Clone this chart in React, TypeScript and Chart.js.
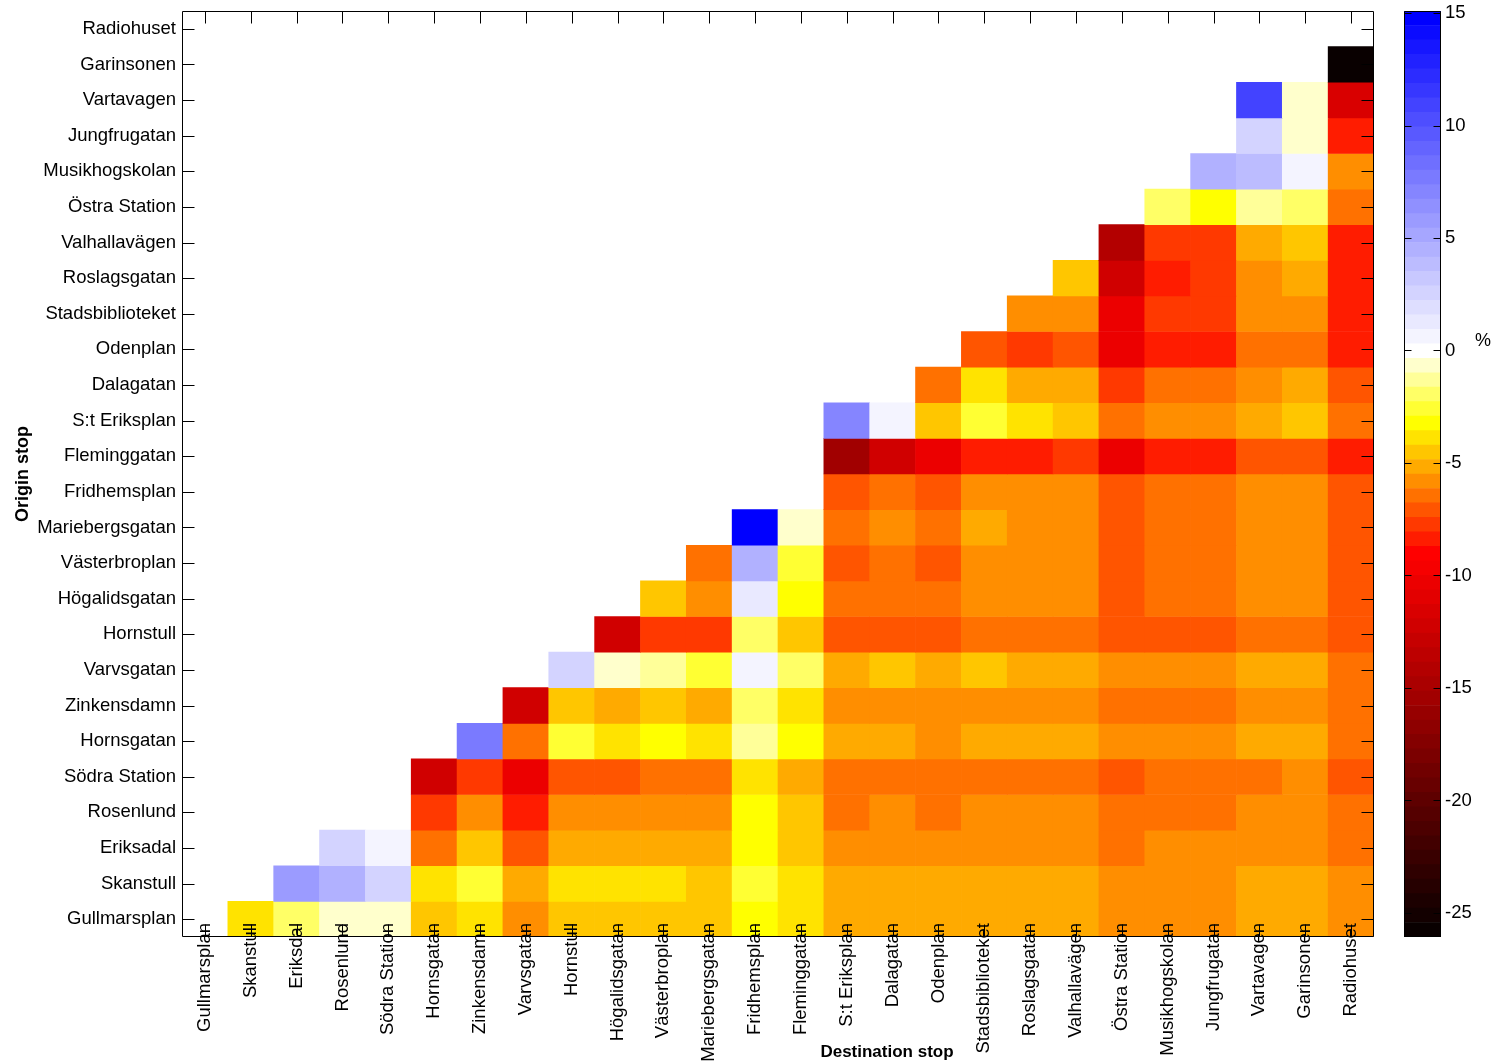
import React, { useEffect, useRef } from "react";
import { Chart, registerables } from "chart.js";

Chart.register(...registerables);

// Origin stops, listed top-to-bottom as on the vertical axis
const origins = [
  "Radiohuset", "Garinsonen", "Vartavagen", "Jungfrugatan", "Musikhogskolan",
  "Östra Station", "Valhallavägen", "Roslagsgatan", "Stadsbiblioteket", "Odenplan",
  "Dalagatan", "S:t Eriksplan", "Fleminggatan", "Fridhemsplan", "Mariebergsgatan",
  "Västerbroplan", "Högalidsgatan", "Hornstull", "Varvsgatan", "Zinkensdamn",
  "Hornsgatan", "Södra Station", "Rosenlund", "Eriksadal", "Skanstull", "Gullmarsplan",
];

// Destination stops, left-to-right on the horizontal axis
const destinations = [
  "Gullmarsplan", "Skanstull", "Eriksdal", "Rosenlund", "Södra Station",
  "Hornsgatan", "Zinkensdamn", "Varvsgatan", "Hornstull", "Högalidsgatan",
  "Västerbroplan", "Mariebergsgatan", "Fridhemsplan", "Fleminggatan", "S:t Eriksplan",
  "Dalagatan", "Odenplan", "Stadsbiblioteket", "Roslagsgatan", "Valhallavägen",
  "Östra Station", "Musikhogskolan", "Jungfrugatan", "Vartavagen", "Garinsonen", "Radiohuset",
];

const _ = null;
// Change in % per origin row (same order as `origins`), columns in `destinations` order
const changePct: (number | null)[][] = [
  [_, _, _, _, _, _, _, _, _, _, _, _, _, _, _, _, _, _, _, _, _, _, _, _, _, _],
  [_, _, _, _, _, _, _, _, _, _, _, _, _, _, _, _, _, _, _, _, _, _, _, _, _, -25.5],
  [_, _, _, _, _, _, _, _, _, _, _, _, _, _, _, _, _, _, _, _, _, _, _, 11.0, -0.7, -11.6],
  [_, _, _, _, _, _, _, _, _, _, _, _, _, _, _, _, _, _, _, _, _, _, _, 2.5, -0.7, -8.4],
  [_, _, _, _, _, _, _, _, _, _, _, _, _, _, _, _, _, _, _, _, _, _, 4.5, 3.8, 0.6, -5.8],
  [_, _, _, _, _, _, _, _, _, _, _, _, _, _, _, _, _, _, _, _, _, -2.0, -3.2, -1.3, -2.0, -6.5],
  [_, _, _, _, _, _, _, _, _, _, _, _, _, _, _, _, _, _, _, _, -14.2, -7.7, -7.7, -5.2, -4.5, -8.4],
  [_, _, _, _, _, _, _, _, _, _, _, _, _, _, _, _, _, _, _, -4.5, -12.2, -8.4, -7.7, -5.8, -5.2, -8.4],
  [_, _, _, _, _, _, _, _, _, _, _, _, _, _, _, _, _, _, -5.8, -5.8, -10.3, -7.7, -7.7, -5.8, -5.8, -8.4],
  [_, _, _, _, _, _, _, _, _, _, _, _, _, _, _, _, _, -7.1, -7.7, -7.1, -10.3, -8.4, -8.4, -6.5, -6.5, -8.4],
  [_, _, _, _, _, _, _, _, _, _, _, _, _, _, _, _, -6.5, -3.9, -5.2, -5.2, -7.7, -6.5, -6.5, -5.8, -5.2, -7.1],
  [_, _, _, _, _, _, _, _, _, _, _, _, _, _, 7.0, 0.6, -4.5, -2.6, -3.9, -4.5, -6.5, -5.8, -5.8, -5.2, -4.5, -6.5],
  [_, _, _, _, _, _, _, _, _, _, _, _, _, _, -15.5, -12.2, -10.3, -8.4, -8.4, -7.7, -10.3, -8.4, -8.4, -7.1, -7.1, -8.4],
  [_, _, _, _, _, _, _, _, _, _, _, _, _, _, -7.1, -6.5, -7.1, -5.8, -5.8, -5.8, -7.1, -6.5, -6.5, -5.8, -5.8, -7.1],
  [_, _, _, _, _, _, _, _, _, _, _, _, 14.9, -0.7, -6.5, -5.8, -6.5, -5.2, -5.8, -5.8, -7.1, -6.5, -6.5, -5.8, -5.8, -7.1],
  [_, _, _, _, _, _, _, _, _, _, _, -6.5, 4.5, -2.6, -7.1, -6.5, -7.1, -5.8, -5.8, -5.8, -7.1, -6.5, -6.5, -5.8, -5.8, -7.1],
  [_, _, _, _, _, _, _, _, _, _, -4.5, -5.8, 1.3, -3.2, -6.5, -6.5, -6.5, -5.8, -5.8, -5.8, -7.1, -6.5, -6.5, -5.8, -5.8, -7.1],
  [_, _, _, _, _, _, _, _, _, -12.2, -7.7, -7.7, -2.0, -4.5, -7.1, -7.1, -7.1, -6.5, -6.5, -6.5, -7.1, -7.1, -7.1, -6.5, -6.5, -7.1],
  [_, _, _, _, _, _, _, _, 2.5, -0.7, -1.3, -2.6, 0.6, -2.0, -5.2, -4.5, -5.2, -4.5, -5.2, -5.2, -5.8, -5.8, -5.8, -5.2, -5.2, -6.5],
  [_, _, _, _, _, _, _, -12.2, -4.5, -5.2, -4.5, -5.2, -2.0, -3.9, -5.8, -5.8, -5.8, -5.8, -5.8, -5.8, -6.5, -6.5, -6.5, -5.8, -5.8, -6.5],
  [_, _, _, _, _, _, 7.7, -6.5, -2.6, -3.9, -3.2, -3.9, -1.3, -3.2, -5.2, -5.2, -5.8, -5.2, -5.2, -5.2, -5.8, -5.8, -5.8, -5.2, -5.2, -6.5],
  [_, _, _, _, _, -12.2, -7.7, -10.3, -7.1, -7.1, -6.5, -6.5, -3.9, -5.2, -6.5, -6.5, -6.5, -6.5, -6.5, -6.5, -7.1, -6.5, -6.5, -6.5, -5.8, -7.1],
  [_, _, _, _, _, -7.7, -5.8, -8.4, -5.8, -5.8, -5.8, -5.8, -3.2, -4.5, -6.5, -5.8, -6.5, -5.8, -5.8, -5.8, -6.5, -6.5, -6.5, -5.8, -5.8, -6.5],
  [_, _, _, 2.5, 0.6, -6.5, -4.5, -7.1, -5.2, -5.2, -5.2, -5.2, -3.2, -4.5, -5.8, -5.8, -5.8, -5.8, -5.8, -5.8, -6.5, -5.8, -5.8, -5.8, -5.8, -6.5],
  [_, _, 5.8, 4.5, 2.5, -3.9, -2.6, -5.2, -3.9, -3.9, -3.9, -4.5, -2.6, -3.9, -5.2, -5.2, -5.2, -5.2, -5.2, -5.2, -5.8, -5.8, -5.8, -5.2, -5.2, -5.8],
  [_, -3.9, -2.0, -0.7, -0.7, -4.5, -3.9, -5.8, -4.5, -4.5, -4.5, -4.5, -3.2, -3.9, -5.2, -5.2, -5.2, -5.2, -5.2, -5.2, -5.8, -5.8, -5.8, -5.2, -5.2, -5.8],
];

const colorbarTicks = [-25, -20, -15, -10, -5, 0, 5, 10, 15];
const colorLimits = [-26.07, 15.09];

// ---------- colormap (64 discrete levels) ----------
const N_LEVELS = 64;
function levelColor(k: number): string {
  let r = 0, g = 0, b = 0;
  if (k <= 25) {
    r = Math.round((255 * (k + 1)) / 27);
  } else if (k <= 35) {
    r = 255; g = Math.round(((k - 26) * 255) / 9);
  } else if (k <= 40) {
    r = 255; g = 255; b = Math.round(((k - 35) * 255) / 5);
  } else {
    const j = k - 40;
    r = g = Math.round(255 * (1 - j / 23)); b = 255;
  }
  return `rgb(${r},${g},${b})`;
}
const colormap = Array.from({ length: N_LEVELS }, (_v, k) => levelColor(k));
const levelWidth = (colorLimits[1] - colorLimits[0]) / N_LEVELS;
function colorFor(v: number): string {
  let k = Math.floor((v - colorLimits[0]) / levelWidth);
  k = Math.max(0, Math.min(N_LEVELS - 1, k));
  return colormap[k];
}

const FONT = '"Liberation Sans", Arial, Helvetica, sans-serif';
const LABEL_SIZE = 18.5;
const W = 1495;
const H = 1064;
const MAIN_W = 1395;
const PLOT = { left: 182, right: 1374, top: 11, bottom: 937 };
const CB = { left: 1404, right: 1441 };

function zeroPad(s: any) {
  s.paddingTop = 0;
  s.paddingBottom = 0;
  s.paddingLeft = 0;
  s.paddingRight = 0;
}

export default function App() {
  const mainRef = useRef<HTMLCanvasElement | null>(null);
  const cbRef = useRef<HTMLCanvasElement | null>(null);

  useEffect(() => {
    if (!mainRef.current || !cbRef.current) return;
    const nRows = origins.length;

    const datasets = changePct.map((row, r) => {
      const p = nRows - 1 - r;
      return {
        label: origins[r],
        data: row.map((v) => (v === null ? null : [p - 0.5, p + 0.5])),
        backgroundColor: row.map((v) => (v === null ? "rgba(0,0,0,0)" : colorFor(v))),
        borderWidth: 0,
        barPercentage: 1,
        categoryPercentage: 1,
        grouped: false,
      };
    });

    const framePlugin = {
      id: "frame",
      afterDraw(chart: any) {
        const { ctx, chartArea: a } = chart;
        const xs = chart.scales.x;
        const ys = chart.scales.y;
        ctx.save();
        ctx.strokeStyle = "#000";
        ctx.lineWidth = 1;
        ctx.beginPath();
        const L = Math.round(a.left) + 0.5, R = Math.round(a.right) - 0.5;
        const T = Math.round(a.top) + 0.5, B = Math.round(a.bottom) - 0.5;
        ctx.rect(L, T, R - L, B - T);
        const tl = 12;
        destinations.forEach((_d, i) => {
          const x = Math.round(xs.getPixelForValue(i)) + 0.5;
          ctx.moveTo(x, B); ctx.lineTo(x, B - tl);
          ctx.moveTo(x, T); ctx.lineTo(x, T + tl);
        });
        origins.forEach((_o, i) => {
          const y = Math.round(ys.getPixelForValue(i)) + 0.5;
          ctx.moveTo(L, y); ctx.lineTo(L + tl, y);
          ctx.moveTo(R, y); ctx.lineTo(R - tl, y);
        });
        ctx.stroke();

        // rotated destination labels (their ends reach into the plot, as in the original)
        ctx.fillStyle = "#000";
        ctx.font = `${LABEL_SIZE}px ${FONT}`;
        ctx.textAlign = "right";
        ctx.textBaseline = "middle";
        (chart.data.labels as string[]).forEach((lab, i) => {
          const x = xs.getPixelForValue(i);
          ctx.save();
          ctx.translate(x, PLOT.bottom - 14);
          ctx.rotate(-Math.PI / 2);
          ctx.fillText(lab, 0, 0);
          ctx.restore();
        });

        ctx.font = `bold 18px ${FONT}`;
        ctx.textAlign = "center";
        ctx.textBaseline = "middle";
        ctx.save();
        ctx.translate(23, 474);
        ctx.rotate(-Math.PI / 2);
        ctx.fillText("Origin stop", 0, 0);
        ctx.restore();
        ctx.font = `bold 17px ${FONT}`;
        ctx.fillText("Destination stop", 887, 1052);
        ctx.restore();
      },
    };

    const main = new Chart(mainRef.current, {
      type: "bar",
      data: { labels: destinations, datasets: datasets as any },
      options: {
        animation: false,
        responsive: false,
        maintainAspectRatio: false,
        devicePixelRatio: 1,
        layout: { padding: { left: 0, right: MAIN_W - PLOT.right, top: PLOT.top, bottom: 0 } },
        plugins: { legend: { display: false }, tooltip: { enabled: false } },
        scales: {
          x: {
            type: "category",
            offset: true,
            grid: { display: false, drawTicks: false },
            border: { display: false },
            ticks: { display: false, autoSkip: false },
            afterFit: (s: any) => { s.height = H - PLOT.bottom; zeroPad(s); },
          },
          y: {
            type: "linear",
            min: -0.5,
            max: nRows - 0.5,
            grid: { display: false, drawTicks: false },
            border: { display: false },
            afterBuildTicks: (s: any) => {
              s.ticks = origins.map((_o, i) => ({ value: nRows - 1 - i }));
            },
            ticks: {
              autoSkip: false,
              padding: 6,
              color: "#000",
              font: { family: FONT, size: LABEL_SIZE },
              callback: (v: any) => origins[nRows - 1 - Number(v)],
            },
            afterFit: (s: any) => { s.width = PLOT.left; zeroPad(s); },
          },
        },
      } as any,
      plugins: [framePlugin],
    });

    // ---------- colour bar ----------
    const cbDatasets = colormap.map((col, k) => ({
      label: `level ${k}`,
      data: [[colorLimits[0] + k * levelWidth, colorLimits[0] + (k + 1) * levelWidth]],
      backgroundColor: col,
      borderWidth: 0,
      barPercentage: 1,
      categoryPercentage: 1,
      grouped: false,
    }));

    const cbFrame = {
      id: "cbframe",
      afterDraw(chart: any) {
        const { ctx, chartArea: a } = chart;
        const ys = chart.scales.y;
        ctx.save();
        ctx.strokeStyle = "#000";
        ctx.lineWidth = 1;
        const L = Math.round(a.left) + 0.5, R = Math.round(a.right) - 0.5;
        const T = Math.round(a.top) + 0.5, B = Math.round(a.bottom) - 0.5;
        ctx.beginPath();
        ctx.rect(L, T, R - L, B - T);
        colorbarTicks.forEach((v) => {
          const y = Math.round(ys.getPixelForValue(v)) + 0.5;
          ctx.moveTo(L, y); ctx.lineTo(L + 7, y);
          ctx.moveTo(R, y); ctx.lineTo(R - 7, y);
        });
        ctx.stroke();
        ctx.fillStyle = "#000";
        ctx.font = `18px ${FONT}`;
        ctx.textAlign = "center";
        ctx.textBaseline = "middle";
        ctx.fillText("%", 1483 - MAIN_W, 341);
        ctx.restore();
      },
    };

    const cb = new Chart(cbRef.current, {
      type: "bar",
      data: { labels: ["%"], datasets: cbDatasets as any },
      options: {
        animation: false,
        responsive: false,
        maintainAspectRatio: false,
        devicePixelRatio: 1,
        layout: { padding: { left: CB.left - MAIN_W, right: 0, top: PLOT.top, bottom: H - PLOT.bottom } },
        plugins: { legend: { display: false }, tooltip: { enabled: false } },
        scales: {
          x: { display: false, offset: true },
          y: {
            type: "linear",
            position: "right",
            min: colorLimits[0],
            max: colorLimits[1],
            grid: { display: false, drawTicks: false },
            border: { display: false },
            afterBuildTicks: (s: any) => {
              s.ticks = colorbarTicks.map((v) => ({ value: v }));
            },
            ticks: {
              autoSkip: false,
              padding: 4,
              color: "#000",
              font: { family: FONT, size: LABEL_SIZE },
              callback: (v: any) => String(v),
            },
            afterFit: (s: any) => { s.width = W - CB.right; zeroPad(s); },
          },
        },
      } as any,
      plugins: [cbFrame],
    });

    return () => {
      main.destroy();
      cb.destroy();
    };
  }, []);

  return (
    <div style={{ position: "absolute", left: 0, top: 0, width: W, height: H, background: "#fff" }}>
      <canvas
        ref={mainRef}
        width={MAIN_W}
        height={H}
        style={{ position: "absolute", left: 0, top: 0, width: MAIN_W, height: H }}
      />
      <canvas
        ref={cbRef}
        width={W - MAIN_W}
        height={H}
        style={{ position: "absolute", left: MAIN_W, top: 0, width: W - MAIN_W, height: H }}
      />
    </div>
  );
}
